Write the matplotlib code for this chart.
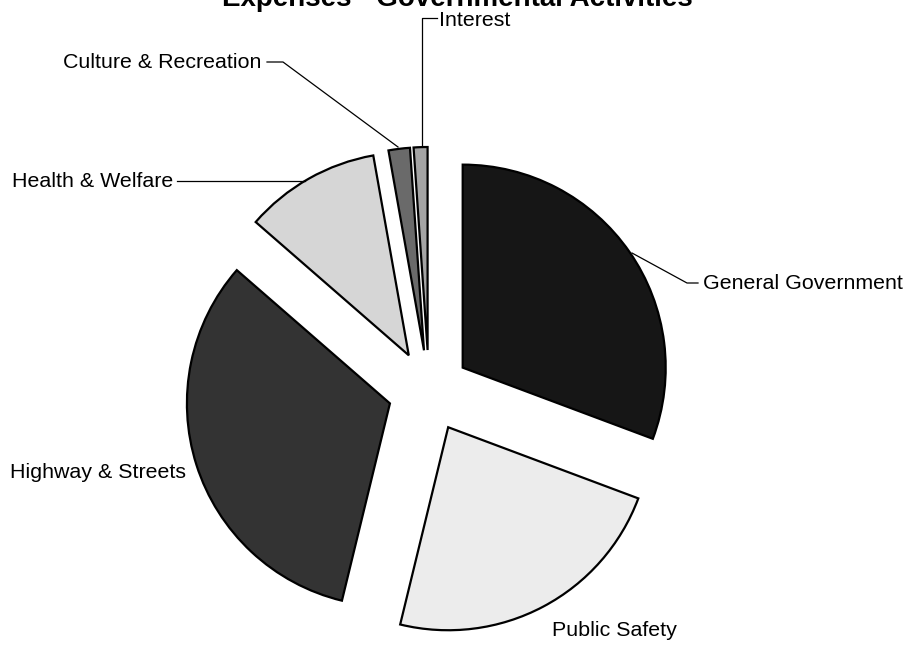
import matplotlib
matplotlib.use("Agg")
import matplotlib.pyplot as plt

W, H = 912, 645

# slice data, clockwise from 12 o'clock
categories = ["General Government", "Public Safety", "Highway & Streets",
              "Health & Welfare", "Culture & Recreation", "Interest"]
shares = [30.7, 23.1, 32.6, 10.8, 1.7, 1.1]
colors = ["#161616", "#ececec", "#333333", "#d6d6d6", "#6a6a6a", "#a4a4a4"]

title = "Expenses - Governmental Activities"

plt.rcParams["font.family"] = ["Liberation Sans", "DejaVu Sans"]

fig = plt.figure(figsize=(W / 100, H / 100), dpi=100)
ax = fig.add_axes([0, 0, 1, 1])

# explode is in data units (pixels here), every slice pulled out the same
ax.pie(shares, colors=colors, startangle=90, counterclock=False,
       explode=[41] * len(shares), center=(429, H - 391), radius=203,
       wedgeprops=dict(edgecolor="black", linewidth=1.6))
ax.set_xlim(0, W)
ax.set_ylim(0, H)
ax.set_aspect("equal")
ax.axis("off")


def up(y):
    return H - y


# label text positions (left edge, vertical centre) in pixels
label_pos = {
    "General Government": (703, 284),
    "Public Safety": (552, 630),
    "Highway & Streets": (10, 472),
    "Health & Welfare": (12, 182),
    "Culture & Recreation": (63, 62),
    "Interest": (439, 20),
}
for name in categories:
    x, y = label_pos[name]
    ax.text(x, up(y), name, ha="left", va="center", fontsize=15.4)

# leader lines
leaders = [
    [(632, 253), (687, 283), (698, 283)],
    [(177, 181), (305, 181)],
    [(267, 62), (283, 62), (398, 147)],
    [(437, 18), (422, 18), (422, 146)],
]
for pts in leaders:
    xs = [p[0] for p in pts]
    ys = [up(p[1]) for p in pts]
    ax.plot(xs, ys, color="black", lw=0.9)

# title sits partly above the top edge, as in the source
fig.text(457 / W, 1 - 6 / H, title, ha="center", va="baseline",
         fontsize=20, fontweight="bold")

fig.savefig("out.png", dpi=100)
